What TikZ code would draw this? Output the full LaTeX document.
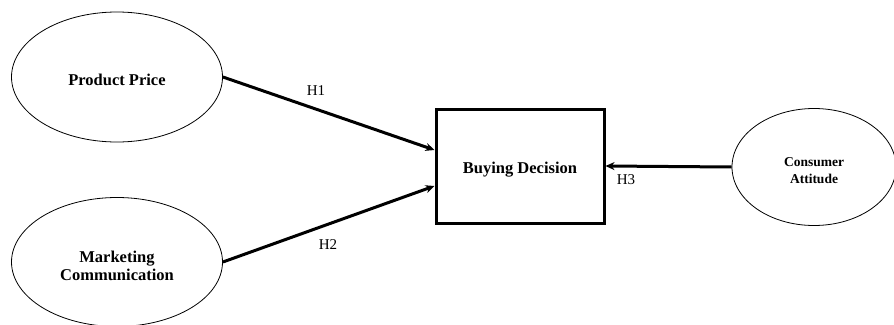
\documentclass[tikz,border=0pt]{standalone}
\usepackage{fontspec}
\setmainfont{Liberation Serif}
\usetikzlibrary{arrows.meta,shapes.geometric}
\newcommand{\lowtext}[2]{\raisebox{-#1}[\height][\depth]{\begin{tabular}{@{}c@{}}#2\end{tabular}}}
\begin{document}
\begin{tikzpicture}[x=1pt,y=-1pt,
  construct/.style={draw,ellipse,line width=0.8pt,inner sep=0pt,font=\fontsize{16.5}{18}\selectfont\bfseries},
  target/.style={draw,rectangle,line width=3pt,inner sep=0pt,font=\fontsize{16.5}{18}\selectfont\bfseries},
  path/.style={line width=3pt,-{Stealth[length=9pt,width=8pt]}},
  hlabel/.style={font=\fontsize{15}{17}\selectfont}]
\useasboundingbox (0,0) rectangle (894,324);
\node[construct,minimum width=211pt,minimum height=130pt] (pp) at (117,77) {\lowtext{5pt}{Product Price}};
\node[construct,minimum width=211pt,minimum height=129pt] (mc) at (117,262) {\lowtext{6pt}{Marketing\\Communication}};
\node[target,minimum width=168pt,minimum height=114pt] (bd) at (520,166) {\lowtext{4pt}{Buying Decision}};
\node[construct,minimum width=164pt,minimum height=117pt,font=\fontsize{13.5}{17}\selectfont\bfseries] (ca) at (814,167) {\lowtext{5pt}{Consumer\\Attitude}};
\draw[path] (pp.east) -- ([yshift=16pt]bd.west);
\draw[path] (mc.east) -- ([yshift=-20pt]bd.west);
\draw[path] (ca.west) -- (bd.east);
\node[hlabel] (h1) at (316,91) {H1};
\node[hlabel] (h2) at (328,245) {H2};
\node[hlabel] (h3) at (626,180) {H3};
\end{tikzpicture}
\end{document}
